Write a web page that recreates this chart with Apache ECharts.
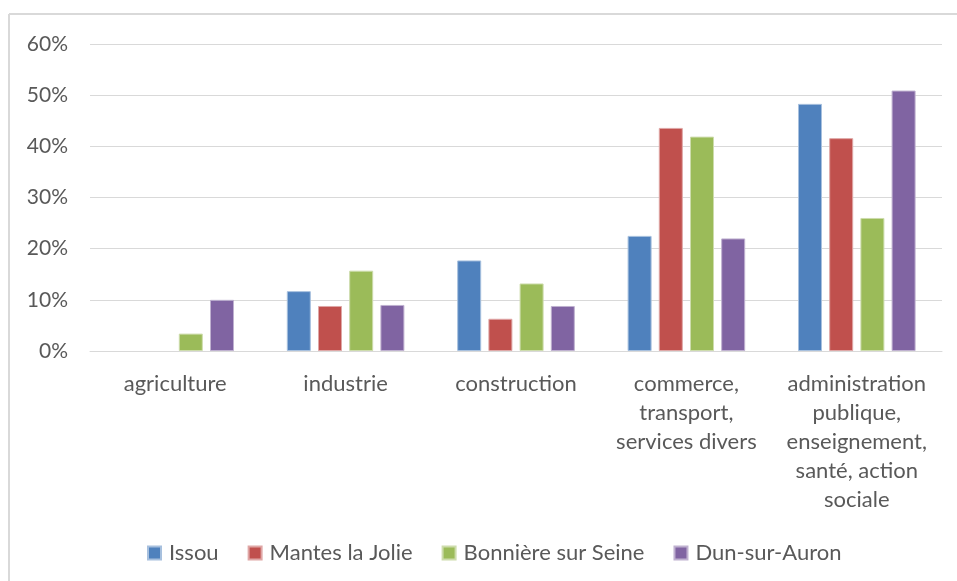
<!DOCTYPE html>
<html>
<head>
<meta charset="utf-8">
<script src="https://cdn.jsdelivr.net/npm/echarts@6/dist/echarts.min.js"></script>
<style>
  html, body { margin: 0; padding: 0; background: #fff; }
  #main { width: 957px; height: 581px; }
</style>
</head>
<body>
<div id="main"></div>
<script>
// categories and values (percent)
var categories = [
  'agriculture',
  'industrie',
  'construction',
  'commerce,\ntransport,\nservices divers',
  'administration\npublique,\nenseignement,\nsanté, action\nsociale'
];
var issou = [null, 11.7, 17.7, 22.5, 48.3];
var mantes = [null, 8.8, 6.3, 43.6, 41.6];
var bonniere = [3.4, 15.7, 13.2, 41.9, 26.0];
var dun = [10.0, 9.0, 8.8, 22.0, 50.9];
var yTicks = [0, 10, 20, 30, 40, 50, 60];

var chartDom = document.getElementById('main');
var myChart = echarts.init(chartDom);
var option;

var FONT = 'Lato';
var TXT = '#595959';

function bar(name, data, color, border) {
  return {
    name: name,
    type: 'bar',
    data: data,
    barWidth: 24,
    barGap: '30%',
    itemStyle: { color: color, borderColor: border, borderWidth: 1 }
  };
}

option = {
  animation: false,
  textStyle: { fontFamily: FONT },
  graphic: [
    // frame lines of the chart area (top and left only are visible)
    { type: 'line', shape: { x1: 9, y1: 14, x2: 957, y2: 14 }, style: { stroke: '#d9d9d9', lineWidth: 2 } },
    { type: 'line', shape: { x1: 9, y1: 14, x2: 9, y2: 581 }, style: { stroke: '#d9d9d9', lineWidth: 2 } }
  ],
  grid: { left: 90, right: 15, top: 44, bottom: 230, containLabel: false },
  legend: {
    bottom: 12,
    left: 142,
    icon: 'rect',
    itemWidth: 13,
    itemHeight: 13,
    itemGap: 29,
    textStyle: { color: TXT, fontSize: 22, fontFamily: FONT, padding: [0, 0, 0, 3] }
  },
  xAxis: {
    type: 'category',
    data: categories,
    axisLine: { lineStyle: { color: '#d9d9d9', width: 1 } },
    axisTick: { show: false },
    axisLabel: {
      color: TXT,
      fontSize: 22,
      lineHeight: 29,
      margin: 18,
      interval: 0,
      align: 'center'
    }
  },
  yAxis: {
    type: 'value',
    min: yTicks[0],
    max: yTicks[yTicks.length - 1],
    interval: 10,
    axisLine: { show: false },
    axisTick: { show: false },
    splitLine: { lineStyle: { color: '#d9d9d9', width: 1 } },
    axisLabel: {
      color: TXT,
      fontSize: 21,
      margin: 22,
      formatter: '{value}%'
    }
  },
  series: [
    bar('Issou', issou, '#4F81BD', '#a7c0de'),
    bar('Mantes la Jolie', mantes, '#C0504D', '#dfa7a6'),
    bar('Bonnière sur Seine', bonniere, '#9BBB59', '#cddcac'),
    bar('Dun-sur-Auron', dun, '#8064A2', '#bfb1d0')
  ]
};

option && myChart.setOption(option);
</script>
</body>
</html>
